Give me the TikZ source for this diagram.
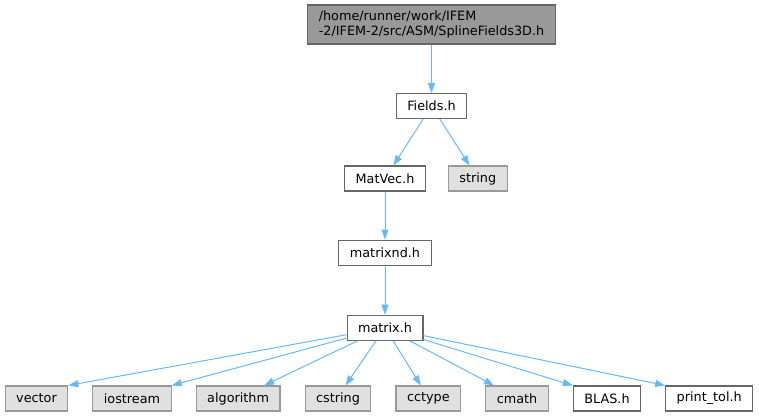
\documentclass[tikz,border=0pt]{standalone}
\usepackage{fontspec}
\setmainfont{DejaVu Sans}
\usetikzlibrary{arrows.meta, positioning}
\definecolor{edgeblue}{HTML}{63B8FF}
\definecolor{nodeborder}{HTML}{666666}
\definecolor{topfill}{HTML}{999999}
\definecolor{extfill}{HTML}{E0E0E0}
\definecolor{extborder}{HTML}{999999}
\tikzstyle{header} = [rectangle, draw=nodeborder, fill=white, minimum height=25pt, inner xsep=11pt, inner ysep=0pt, text centered, line width=1.1pt, font=\fontsize{12.8}{14.8}\selectfont]
\tikzstyle{current} = [header, fill=topfill, align=left, minimum height=39pt]
\tikzstyle{system} = [header, draw=extborder, fill=extfill]
\tikzstyle{arrow} = [line width=1pt, color=edgeblue, -{Triangle[length=10pt,width=7pt]}]

\begin{document}
\begin{tikzpicture}
	\useasboundingbox (0,0) rectangle (759pt,-417pt);
	\node (current) [current] at (431.5pt,-24.5pt) {/home/runner/work/IFEM\\-2/IFEM-2/src/ASM/SplineFields3D.h};
	\node (fields) [header, below = 48.5pt of current] {Fields.h};
	\node (matvec) [header] at (385pt,-178.5pt) {MatVec.h};
	\node (string) [system, right = 22pt of matvec] {string};
	\node (matrixnd) [header, below = 48pt of matvec] {matrixnd.h};
	\node (matrix) [header, below = 49pt of matrixnd] {matrix.h};
	% headers included by matrix.h
	\node (vector) [system] at (36.5pt,-398.5pt) {vector};
	\node (iostream) [system, right = 24pt of vector] {iostream};
	\node (algorithm) [system, right = 24pt of iostream] {algorithm};
	\node (cstring) [system, right = 24pt of algorithm] {cstring};
	\node (cctype) [system, right = 24pt of cstring] {cctype};
	\node (cmath) [system, right = 24pt of cctype] {cmath};
	\node (blas) [header, right = 24pt of cmath] {BLAS.h};
	\node (printtol) [header, right = 24pt of blas] {print\_tol.h};
	\draw [arrow] (current) -- (fields);
	\draw [arrow] (fields) -- (matvec);
	\draw [arrow] (fields) -- (string);
	\draw [arrow] (matvec) -- (matrixnd);
	\draw [arrow] (matrixnd) -- (matrix);
	\draw [arrow] (matrix) -- (vector.north east);
	\draw [arrow] (matrix) -- (iostream.north east);
	\draw [arrow] (matrix) -- ([xshift=26pt]algorithm.north);
	\draw [arrow] (matrix) -- ([xshift=7.5pt]cstring.north);
	\draw [arrow] (matrix) -- ([xshift=-7.5pt]cctype.north);
	\draw [arrow] (matrix) -- ([xshift=-23pt]cmath.north);
	\draw [arrow] (matrix) -- (blas.north west);
	\draw [arrow] (matrix) -- (printtol.north west);
\end{tikzpicture}
\end{document}
